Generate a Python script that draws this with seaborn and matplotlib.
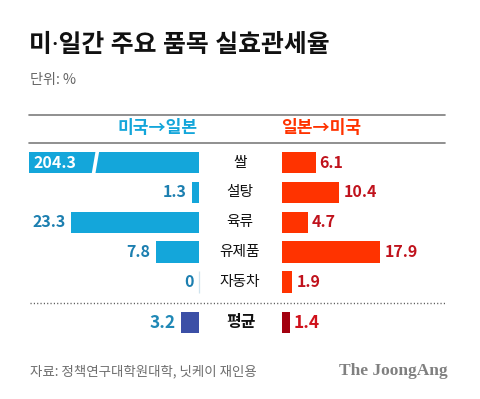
import matplotlib
matplotlib.use("Agg")
import matplotlib.pyplot as plt
import matplotlib.transforms as mtransforms
from matplotlib.lines import Line2D
import seaborn as sns
import pandas as pd

# ---------------- data ----------------
categories = ["쌀", "설탕", "육류", "유제품", "자동차"]
us_to_jp = [204.3, 1.3, 23.3, 7.8, 0]
jp_to_us = [6.1, 10.4, 4.7, 17.9, 1.9]
avg_label = ["평균"]
avg_us_to_jp = [3.2]
avg_jp_to_us = [1.4]
value_labels_left = ["204.3", "1.3", "23.3", "7.8", "0"]
value_labels_right = ["6.1", "10.4", "4.7", "17.9", "1.9"]
avg_labels_left = ["3.2"]
avg_labels_right = ["1.4"]
title = "미·일간 주요 품목 실효관세율"
unit = "단위: %"
left_header = "미국→일본"
right_header = "일본→미국"
source = "자료: 정책연구대학원대학, 닛케이 재인용"
brand = "The JoongAng"

# ---------------- style ----------------
CYAN = "#14a6da"
CYAN_TXT = "#1c7fb0"
RED = "#ff3300"
RED_TXT = "#c0121c"
BLUE = "#3b4fa6"
DARKRED = "#a3000f"
GRAY_LINE = "#7d7d7d"

sns.set_theme(style="white")
plt.rcParams['font.family'] = ['Noto Sans CJK KR', 'DejaVu Sans']

W, H = 480, 399
fig = plt.figure(figsize=(4.8, 3.99), dpi=100)
fig.patch.set_facecolor("white")


def fx(px):
    return px / W


def fy(py):
    return 1 - py / H


SCALE = 5.5  # pixels per percentage point
L0, L1 = 29, 199
R0, R1 = 282, 445
top_px, bot_px = 147.6, 296.9
left_max = (L1 - L0) / SCALE
right_max = (R1 - R0) / SCALE

axL = fig.add_axes([fx(L0), fy(bot_px), (L1 - L0) / W, (bot_px - top_px) / H])
axR = fig.add_axes([fx(R0), fy(bot_px), (R1 - R0) / W, (bot_px - top_px) / H])

df = pd.DataFrame({"category": categories, "us_to_jp": us_to_jp, "jp_to_us": jp_to_us})

sns.barplot(data=df, y="category", x="us_to_jp", orient="h", color=CYAN,
            saturation=1, width=0.72, linewidth=0, errorbar=None, ax=axL)
sns.barplot(data=df, y="category", x="jp_to_us", orient="h", color=RED,
            saturation=1, width=0.72, linewidth=0, errorbar=None, ax=axR)

axL.set_xlim(left_max, 0)
axR.set_xlim(0, right_max)
for ax in (axL, axR):
    ax.set_ylim(len(categories) - 0.5, -0.5)
    ax.axis("off")

VFS = 11.5
for i, (v, lab) in enumerate(zip(us_to_jp, value_labels_left)):
    if v > left_max:
        axL.annotate(lab, xy=(left_max, i), xytext=(3.5, 0), textcoords="offset points",
                     ha="left", va="center", color="white", fontsize=VFS, fontweight="bold")
        # break mark on the truncated bar
        tr = mtransforms.blended_transform_factory(axL.transAxes, axL.transData)
        axL.plot([(93.3 - L0) / (L1 - L0), (97.6 - L0) / (L1 - L0)], [i + 0.42, i - 0.42],
                 color="white", lw=2.6, transform=tr, solid_capstyle="butt")
    else:
        axL.annotate(lab, xy=(v, i), xytext=(-4, 0), textcoords="offset points",
                     ha="right", va="center", color=CYAN_TXT, fontsize=VFS, fontweight="bold")
        if v == 0:
            axL.vlines(v, i - 0.38, i + 0.38, color="#cfe3ee", lw=0.9, clip_on=False)

for i, (v, lab) in enumerate(zip(jp_to_us, value_labels_right)):
    axR.annotate(lab, xy=(v, i), xytext=(3, 0), textcoords="offset points",
                 ha="left", va="center", color=RED_TXT, fontsize=VFS, fontweight="bold")

# category labels in the middle
trC = mtransforms.blended_transform_factory(fig.transFigure, axR.transData)
for i, c in enumerate(categories):
    fig.text(fx(240), i, c, transform=trC, ha="center", va="center",
             fontsize=10.6, color="#111111", fontweight="medium")

# ---------------- average row ----------------
a_top, a_bot = 307.5, 337.5
axAL = fig.add_axes([fx(L0), fy(a_bot), (L1 - L0) / W, (a_bot - a_top) / H])
axAR = fig.add_axes([fx(R0), fy(a_bot), (R1 - R0) / W, (a_bot - a_top) / H])
dfa = pd.DataFrame({"category": avg_label, "us_to_jp": avg_us_to_jp, "jp_to_us": avg_jp_to_us})
sns.barplot(data=dfa, y="category", x="us_to_jp", orient="h", color=BLUE,
            saturation=1, width=0.68, linewidth=0, errorbar=None, ax=axAL)
sns.barplot(data=dfa, y="category", x="jp_to_us", orient="h", color=DARKRED,
            saturation=1, width=0.68, linewidth=0, errorbar=None, ax=axAR)
axAL.set_xlim(left_max, 0)
axAR.set_xlim(0, right_max)
for ax in (axAL, axAR):
    ax.set_ylim(0.5, -0.5)
    ax.axis("off")
for i, (v, lab) in enumerate(zip(avg_us_to_jp, avg_labels_left)):
    axAL.annotate(lab, xy=(v, i), xytext=(-4.3, 0), textcoords="offset points",
                  ha="right", va="center", color="#1f88b6", fontsize=12.5, fontweight="bold")
for i, (v, lab) in enumerate(zip(avg_jp_to_us, avg_labels_right)):
    axAR.annotate(lab, xy=(v, i), xytext=(2.5, 0), textcoords="offset points",
                  ha="left", va="center", color="#d0111b", fontsize=12.5, fontweight="bold")
trA = mtransforms.blended_transform_factory(fig.transFigure, axAR.transData)
fig.text(fx(241), 0, avg_label[0], transform=trA, ha="center", va="center",
         fontsize=11.5, color="#111111", fontweight="heavy")

# ---------------- rules ----------------
fig.add_artist(Line2D([fx(29), fx(445)], [fy(115), fy(115)], color=GRAY_LINE, lw=1.2))
fig.add_artist(Line2D([fx(29), fx(445)], [fy(143), fy(143)], color=GRAY_LINE, lw=1.2))
fig.add_artist(Line2D([fx(30), fx(445)], [fy(303), fy(303)], color="#555555", lw=1.0,
                      linestyle=(0, (0.8, 1.6))))

# headers
fig.text(fx(158), fy(128), left_header, ha="center", va="center", color=CYAN,
         fontsize=12.3, fontweight="heavy")
fig.text(fx(321), fy(128), right_header, ha="center", va="center", color=RED,
         fontsize=12.3, fontweight="heavy")

# ---------------- titles & footer ----------------
fig.text(fx(29), fy(45), title, ha="left", va="center", fontsize=17.9, fontweight="heavy",
         color="#111111", family=["Noto Sans", "Noto Sans CJK KR"])
fig.text(fx(30), fy(80), unit, ha="left", va="center", fontsize=10.2, color="#666666")
fig.text(fx(30), fy(371), source, ha="left", va="center", fontsize=9.7, color="#6e6e6e")
fig.text(fx(448), fy(371), brand, ha="right", va="center", fontsize=12.5, fontweight="bold",
         color="#808080", family=["Liberation Serif", "DejaVu Serif"])

fig.savefig("out.png", dpi=100, facecolor="white")
